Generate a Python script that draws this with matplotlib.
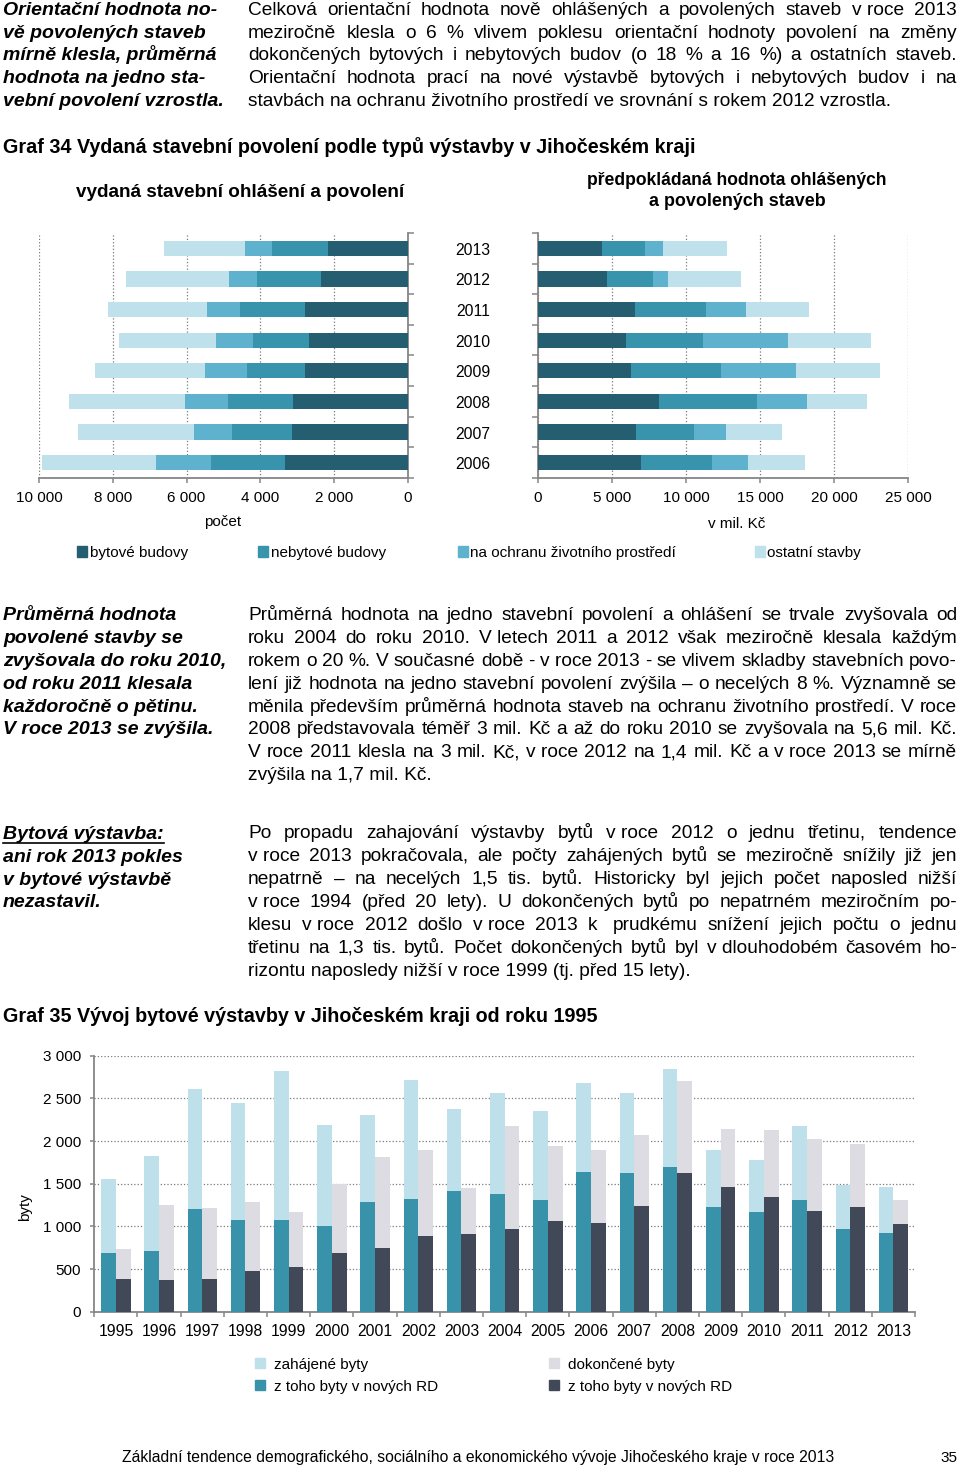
import numpy as np
import matplotlib
matplotlib.use('Agg')
import matplotlib.pyplot as plt
import matplotlib.transforms as mtransforms
from matplotlib.patches import Rectangle
from matplotlib.lines import Line2D

plt.rcParams['font.family'] = ['Liberation Sans', 'DejaVu Sans']

# --- data: Graf 34 (vydaná stavební povolení) ---
years34 = [2006, 2007, 2008, 2009, 2010, 2011, 2012, 2013]
types34 = ['bytové budovy', 'nebytové budovy', 'na ochranu životního prostředí', 'ostatní stavby']
count_byt = [3320, 3140, 3110, 2790, 2670, 2790, 2350, 2170]
count_neb = [2020, 1620, 1780, 1570, 1520, 1770, 1740, 1510]
count_och = [1500, 1050, 1140, 1140, 1010, 900, 760, 725]
count_ost = [3070, 3120, 3150, 2990, 2630, 2670, 2800, 2220]
value_byt = [6950, 6640, 8150, 6260, 5940, 6530, 4640, 4300]
value_neb = [4820, 3920, 6620, 6080, 5240, 4840, 3130, 2930]
value_och = [2410, 2140, 3420, 5060, 5720, 2700, 990, 1240]
value_ost = [3830, 3800, 4010, 5740, 5630, 4230, 4930, 4320]

# --- data: Graf 35 (bytová výstavba) ---
years35 = list(range(1995, 2014))
zahajene = [1560, 1820, 2610, 2450, 2820, 2190, 2300, 2715, 2370, 2560,
            2350, 2680, 2560, 2840, 1900, 1780, 2180, 1480, 1465]
zahajene_rd = [685, 715, 1200, 1080, 1080, 1010, 1290, 1325, 1415, 1375,
               1310, 1635, 1620, 1690, 1225, 1170, 1310, 975, 925]
dokoncene = [730, 1250, 1220, 1290, 1170, 1500, 1810, 1895, 1445, 2175,
             1945, 1895, 2070, 2700, 2140, 2125, 2025, 1970, 1310]
dokoncene_rd = [385, 370, 385, 475, 525, 685, 750, 890, 905, 975,
                1060, 1045, 1240, 1620, 1465, 1340, 1185, 1225, 1030]

c34 = ['#245e70', '#3893ac', '#5fb2cd', '#bee1ec']
c35 = ['#bde0ea', '#3892aa', '#dcdce2', '#414858']
grey = '#868686'

W, H = 960, 1467
fig = plt.figure(figsize=(9.6, 14.67), dpi=100)
renderer = fig.canvas.get_renderer()


def fx(px):
    return px / W


def fy(py):
    return 1 - py / H


def put(s, x, y, size, ha='left', **kw):
    # y is the visual middle of the line, converted to baseline
    yb = y + 0.36 * size * 100 / 72
    return fig.text(fx(x), fy(yb), s, fontsize=size, ha=ha, va='baseline', **kw)


def fit(s, x0, x1, y, **kw):
    t = put(s, x0, y, 10, **kw)
    w = t.get_window_extent(renderer).width
    size = 10 * (x1 - x0) / w
    t.remove()
    return put(s, x0, y, size, **kw)


def justify(lines, x0, x1, y0, dy, size, **kw):
    for i, line in enumerate(lines):
        y = y0 + i * dy
        words = line.split(' ')
        if i == len(lines) - 1 or len(words) == 1:
            put(line, x0, y, size, **kw)
            continue
        ts = [put(w, x0, y, size, **kw) for w in words]
        ws = [t.get_window_extent(renderer).width for t in ts]
        gap = (x1 - x0 - sum(ws)) / (len(words) - 1)
        sp = 0.2 * size * 100 / 72
        if gap < sp:
            k = (x1 - x0 - sp * (len(words) - 1)) / sum(ws)
            for t in ts:
                t.set_fontsize(size * k)
            ws = [t.get_window_extent(renderer).width for t in ts]
            gap = (x1 - x0 - sum(ws)) / (len(words) - 1)
        x = x0
        for t, w in zip(ts, ws):
            t.set_x(fx(x))
            x += w + gap


body = 13.8
sidesize = 14.0
side = dict(fontweight='bold', fontstyle='italic')

# --- top text block ---
for i, s in enumerate(['Orientační hodnota no-', 'vě povolených staveb',
                       'mírně klesla, průměrná', 'hodnota na jedno sta-',
                       'vební povolení vzrostla.']):
    put(s, 3, 8 + i * 22.7, sidesize, **side)
justify(['Celková orientační hodnota nově ohlášených a povolených staveb v\u00a0roce 2013',
         'meziročně klesla o 6 % vlivem poklesu orientační hodnoty povolení na změny',
         'dokončených bytových i nebytových budov (o 18 % a 16 %) a ostatních staveb.',
         'Orientační hodnota prací na nové výstavbě bytových i nebytových budov i na',
         'stavbách na ochranu životního prostředí ve srovnání s rokem 2012 vzrostla.'],
        248, 957, 8, 22.7, body)

# --- Graf 34 ---
fit('Graf 34 Vydaná stavební povolení podle typů výstavby v Jihočeském kraji',
    3, 697, 146, fontweight='bold')
fit('vydaná stavební ohlášení a povolení', 76, 404, 190, fontweight='bold')
fit('předpokládaná hodnota ohlášených', 587, 888, 179, fontweight='bold')
fit('a povolených staveb', 649, 825, 200, fontweight='bold')

ypos = np.arange(len(years34))


def stacked(ax, series):
    left = np.zeros(len(years34))
    for vals, col in zip(series, c34):
        ax.barh(ypos, vals, left=left, height=0.5, color=col, zorder=3)
        left = left + np.array(vals)


def style34(ax, side_spine):
    ax.set_ylim(-0.5, len(years34) - 0.5)
    for sp in ['top', 'left', 'right']:
        ax.spines[sp].set_visible(False)
    ax.spines[side_spine].set_visible(True)
    for sp in ['bottom', side_spine]:
        ax.spines[sp].set_color(grey)
        ax.spines[sp].set_linewidth(1.3)
    ax.set_yticks(np.arange(-0.5, len(years34), 1))
    ax.set_yticklabels([])
    ax.tick_params(axis='y', length=4.5, color=grey, width=1.1)
    ax.tick_params(axis='x', length=3.5, color=grey, width=1.1, pad=6, labelsize=11)
    ax.grid(axis='x', linestyle=':', color='#7a7a7a', linewidth=0.9)
    ax.set_axisbelow(True)


def thousands(v):
    return f'{v:,}'.replace(',', '\u00a0')


ax1 = fig.add_axes([fx(39), fy(478), (408 - 39) / W, (478 - 233) / H])
stacked(ax1, [count_byt, count_neb, count_och, count_ost])
ax1.set_xlim(10000, 0)
ax1.set_xticks(range(0, 10001, 2000))
ax1.set_xticklabels([thousands(v) for v in range(0, 10001, 2000)])
ax1.yaxis.tick_right()
style34(ax1, 'right')

ax2 = fig.add_axes([fx(538), fy(478), (908 - 538) / W, (478 - 233) / H])
stacked(ax2, [value_byt, value_neb, value_och, value_ost])
ax2.set_xlim(0, 25000)
ax2.set_xticks(range(0, 25001, 5000))
ax2.set_xticklabels([thousands(v) for v in range(0, 25001, 5000)])
style34(ax2, 'left')

trans = mtransforms.blended_transform_factory(fig.transFigure, ax2.transData)
trans = trans + mtransforms.ScaledTranslation(0, -2 / 100, fig.dpi_scale_trans)
for i, yr in enumerate(years34):
    fig.text(fx(473), i, str(yr), transform=trans, ha='center', va='center', fontsize=11.3)

put('počet', 223, 521, 11, ha='center')
put('v mil. Kč', 737, 523, 11, ha='center')

for (sx, tx), lab, col in zip([(77, 90), (258, 271), (458, 470), (755, 767)], types34, c34):
    fig.add_artist(Rectangle((fx(sx), fy(557)), 10 / W, 11 / H, color=col,
                             transform=fig.transFigure))
    put(lab, tx, 552, 11)

# --- middle text ---
for i, s in enumerate(['Průměrná hodnota', 'povolené stavby se', 'zvyšovala do roku 2010,',
                       'od roku 2011 klesala', 'každoročně o pětinu.',
                       'V roce 2013 se zvýšila.']):
    put(s, 3, 613 + i * 22.9, sidesize, **side)
justify(['Průměrná hodnota na jedno stavební povolení a ohlášení se trvale zvyšovala od',
         'roku 2004 do roku 2010. V\u00a0letech 2011 a 2012 však meziročně klesala každým',
         'rokem o 20 %. V současné době - v\u00a0roce 2013 - se vlivem skladby stavebních povo-',
         'lení již hodnota na jedno stavební povolení zvýšila – o necelých 8 %. Významně se',
         'měnila především průměrná hodnota staveb na ochranu životního prostředí. V roce',
         '2008 představovala téměř 3 mil. Kč a až do roku 2010 se zvyšovala na 5,6 mil. Kč.',
         'V roce 2011 klesla na 3 mil. Kč, v\u00a0roce 2012 na 1,4 mil. Kč a v\u00a0roce 2013 se mírně',
         'zvýšila na 1,7 mil. Kč.'],
        248, 957, 613, 22.9, body)

t = put('Bytová výstavba:', 3, 832, sidesize, **side)
bb = t.get_window_extent(renderer)
fig.add_artist(Line2D([bb.x0 / W, bb.x1 / W], [fy(843), fy(843)], color='black',
                      linewidth=1.2, transform=fig.transFigure))
for i, s in enumerate(['ani rok 2013 pokles', 'v bytové výstavbě', 'nezastavil.']):
    put(s, 3, 855 + i * 22.7, sidesize, **side)
justify(['Po propadu zahajování výstavby bytů v\u00a0roce 2012 o jednu třetinu, tendence',
         'v\u00a0roce 2013 pokračovala, ale počty zahájených bytů se meziročně snížily již jen',
         'nepatrně – na necelých 1,5 tis. bytů. Historicky byl jejich počet naposled nižší',
         'v\u00a0roce 1994 (před 20 lety). U dokončených bytů po nepatrném meziročním po-',
         'klesu v\u00a0roce 2012 došlo v\u00a0roce 2013 k\u00a0 prudkému snížení jejich počtu o jednu',
         'třetinu na 1,3 tis. bytů. Počet dokončených bytů byl v\u00a0dlouhodobém časovém ho-',
         'rizontu naposledy nižší v\u00a0roce 1999 (tj. před 15 lety).'],
        248, 957, 831, 23.0, body)

# --- Graf 35 ---
fit('Graf 35 Vývoj bytové výstavby v Jihočeském kraji od roku 1995', 3, 598, 1015,
    fontweight='bold')

ax3 = fig.add_axes([fx(94.3), fy(1311.7), (915 - 94.3) / W, (1311.7 - 1055.7) / H])
x = np.arange(len(years35))
w = 0.34
ax3.bar(x - w / 2, zahajene, w, color=c35[0], zorder=3)
ax3.bar(x - w / 2, zahajene_rd, w, color=c35[1], zorder=4)
ax3.bar(x + w / 2, dokoncene, w, color=c35[2], zorder=3)
ax3.bar(x + w / 2, dokoncene_rd, w, color=c35[3], zorder=4)
ax3.set_xlim(-0.5, len(years35) - 0.5)
ax3.set_ylim(0, 3000)
ax3.set_yticks(range(0, 3001, 500))
ax3.set_yticklabels([thousands(v) for v in range(0, 3001, 500)])
ax3.set_xticks(x)
ax3.set_xticklabels([str(y) for y in years35])
ax3.set_xticks(np.arange(-0.5, len(years35), 1), minor=True)
ax3.tick_params(axis='x', which='major', length=0, pad=9, labelsize=11.3)
ax3.tick_params(axis='x', which='minor', length=3.5, color=grey, width=1.1)
ax3.tick_params(axis='y', length=3, color=grey, width=1.1, pad=6.5, labelsize=11)
for sp in ['top', 'right']:
    ax3.spines[sp].set_visible(False)
for sp in ['left', 'bottom']:
    ax3.spines[sp].set_color(grey)
    ax3.spines[sp].set_linewidth(1.3)
ax3.grid(axis='y', linestyle=':', color='#7a7a7a', linewidth=0.9)
ax3.set_axisbelow(True)
fig.text(fx(25), fy(1207), 'byty', rotation=90, ha='center', va='center', fontsize=11)

leg35 = [('zahájené byty', c35[0], 255, 1363), ('z toho byty v nových RD', c35[1], 255, 1385),
         ('dokončené byty', c35[2], 549, 1363), ('z toho byty v nových RD', c35[3], 549, 1385)]
for lab, col, sx, yy in leg35:
    fig.add_artist(Rectangle((fx(sx), fy(yy + 5)), 10 / W, 10 / H, color=col,
                             transform=fig.transFigure))
    put(lab, sx + 19, yy, 11)

# --- footer ---
fit('Základní tendence demografického, sociálního a ekonomického vývoje Jihočeského kraje v roce 2013',
    122, 838, 1456)
put('35', 957, 1456, 11, ha='right')

fig.savefig('out.png', dpi=100)
